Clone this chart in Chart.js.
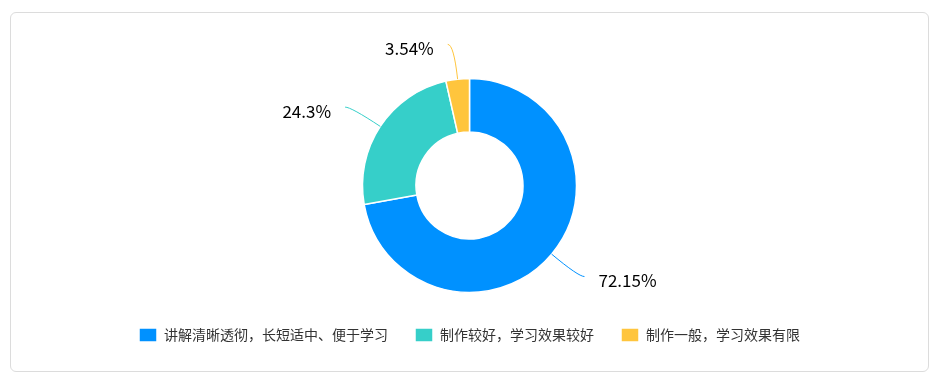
<!DOCTYPE html>
<html>
<head>
<meta charset="utf-8">
<script src="https://cdn.jsdelivr.net/npm/chart.js@4/dist/chart.umd.min.js"></script>
<style>
  body { margin: 0; background: #fff; }
  .card {
    position: absolute; left: 10px; top: 12px;
    width: 917px; height: 358px;
    border: 1px solid #dcdcdc; border-radius: 6px;
  }
  .card canvas { display: block; }
</style>
</head>
<body>
<div class="card"><canvas id="chart"></canvas></div>
<script>
// dados do gráfico
const categorias = ['讲解清晰透彻，长短适中、便于学习', '制作较好，学习效果较好', '制作一般，学习效果有限'];
const percentuais = [72.15, 24.3, 3.54];
const cores = ['#0091ff', '#36cfc9', '#ffc53d'];

// rótulos externos com linha guia
const rotulosExternos = {
  id: 'rotulosExternos',
  afterDatasetsDraw(chart) {
    const ctx = chart.ctx;
    const meta = chart.getDatasetMeta(0);
    meta.data.forEach((arc, i) => {
      const mid = (arc.startAngle + arc.endAngle) / 2;
      const r = arc.outerRadius;
      const cos = Math.cos(mid), sin = Math.sin(mid);
      const x0 = arc.x + cos * r, y0 = arc.y + sin * r;
      const x1 = arc.x + cos * (r + 35), y1 = arc.y + sin * (r + 35);
      const dir = cos >= 0 ? 1 : -1;
      const x2 = x1 + dir * 6;
      ctx.save();
      ctx.strokeStyle = cores[i];
      ctx.lineWidth = 1;
      ctx.beginPath();
      ctx.moveTo(x0, y0);
      ctx.quadraticCurveTo(x1, y1, x2, y1);
      ctx.stroke();
      ctx.fillStyle = '#000';
      ctx.font = '17px "Noto Sans CJK SC", sans-serif';
      ctx.textBaseline = 'middle';
      ctx.textAlign = dir > 0 ? 'left' : 'right';
      ctx.fillText(percentuais[i] + '%', x2 + dir * 14, y1 + 4);
      ctx.restore();
    });
  }
};

new Chart(document.getElementById('chart'), {
  type: 'doughnut',
  data: {
    labels: categorias,
    datasets: [{
      data: percentuais,
      backgroundColor: cores,
      borderColor: '#fff',
      borderWidth: 1.5,
      radius: 107,
      cutout: '50%'
    }]
  },
  options: {
    responsive: true,
    maintainAspectRatio: false,
    animation: false,
    layout: { padding: { top: 57, bottom: 19 } },
    plugins: {
      tooltip: { enabled: false },
      legend: {
        position: 'bottom',
        labels: {
          boxWidth: 18,
          boxHeight: 14,
          padding: 27,
          color: '#333',
          font: { size: 14, family: '"Noto Sans CJK SC", sans-serif' }
        }
      }
    }
  },
  plugins: [rotulosExternos]
});
</script>
</body>
</html>
